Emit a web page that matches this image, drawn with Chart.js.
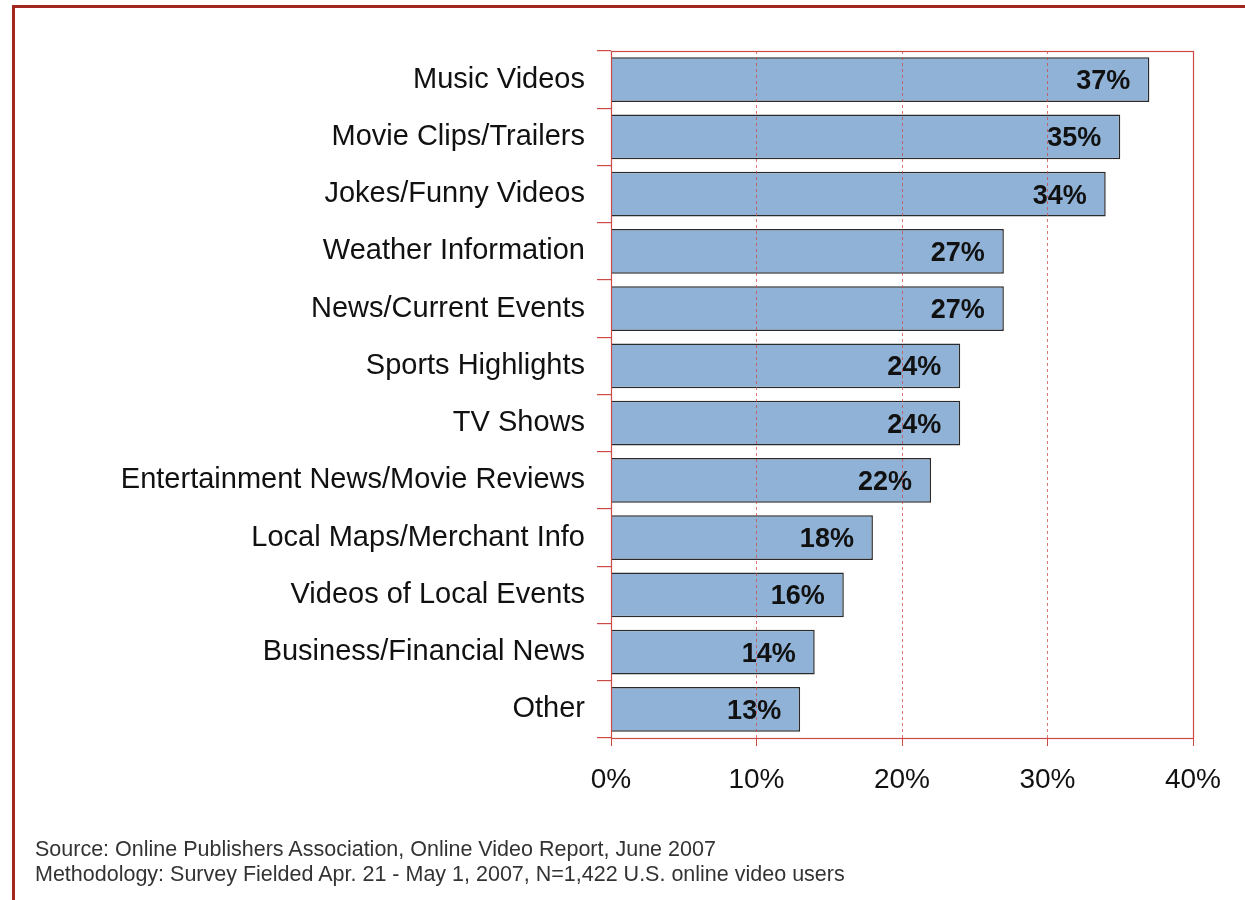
<!DOCTYPE html>
<html>
<head>
<meta charset="utf-8">
<script src="https://cdn.jsdelivr.net/npm/chart.js@4"></script>
<style>
  html, body { margin: 0; padding: 0; background: #fff; overflow: hidden; }
  #wrap { position: relative; width: 1245px; height: 900px; }
  #frame {
    position: absolute; left: 12px; top: 5px; width: 1300px; height: 1000px;
    border-left: 3px solid #a3261f; border-top: 3px solid #a3261f;
  }
  #chart { position: absolute; left: 0; top: 0; }
  .note {
    position: absolute; left: 35px; font-family: "Liberation Sans", Arial, sans-serif;
    font-size: 21.5px; color: #333; white-space: nowrap;
  }
</style>
</head>
<body>
<div id="wrap">
  <div id="frame"></div>
  <canvas id="chart" width="1245" height="900"></canvas>
  <div class="note" style="top:837px">Source: Online Publishers Association, Online Video Report, June 2007</div>
  <div class="note" style="top:862px">Methodology: Survey Fielded Apr. 21 - May 1, 2007, N=1,422 U.S. online video users</div>
</div>
<script>
const categories = [
    'Music Videos', 'Movie Clips/Trailers', 'Jokes/Funny Videos', 'Weather Information',
    'News/Current Events', 'Sports Highlights', 'TV Shows', 'Entertainment News/Movie Reviews',
    'Local Maps/Merchant Info', 'Videos of Local Events', 'Business/Financial News', 'Other'
];
const shares = [37, 35, 34, 27, 27, 24, 24, 22, 18, 16, 14, 13];
const xTicks = [0, 10, 20, 30, 40];

const red = '#cc4a45';

// percent label just inside the end of each bar
const barLabels = {
    id: 'barLabels',
    afterDatasetsDraw(chart) {
        const ctx = chart.ctx;
        const meta = chart.getDatasetMeta(0);
        ctx.save();
        ctx.font = 'bold 27px "Liberation Sans", Arial, sans-serif';
        ctx.fillStyle = '#111';
        ctx.textAlign = 'right';
        ctx.textBaseline = 'middle';
        meta.data.forEach((bar, i) => {
            ctx.fillText(shares[i] + '%', bar.x - 19, bar.y + 2);
        });
        ctx.restore();
    }
};

// solid box round the plot
const plotFrame = {
    id: 'plotFrame',
    afterDraw(chart) {
        const a = chart.chartArea;
        const ctx = chart.ctx;
        ctx.save();
        ctx.strokeStyle = red;
        ctx.lineWidth = 1.2;
        ctx.strokeRect(a.left + 0.5, a.top + 0.5, a.right - a.left, a.bottom - a.top);
        ctx.restore();
    }
};

new Chart(document.getElementById('chart').getContext('2d'), {
    type: 'bar',
    data: {
        labels: categories,
        datasets: [{
            data: shares,
            backgroundColor: '#8fb2d6',
            borderColor: '#2a2a2a',
            borderWidth: 1.5,
            barPercentage: 0.78,
            categoryPercentage: 1
        }]
    },
    options: {
        indexAxis: 'y',
        responsive: false,
        animation: false,
        layout: { padding: { top: 51, right: 52, bottom: 0, left: 0 } },
        plugins: {
            legend: { display: false },
            tooltip: { enabled: false }
        },
        scales: {
            x: {
                min: 0,
                max: 40,
                afterBuildTicks: s => { s.ticks = xTicks.map(v => ({ value: v })); },
                afterFit: s => { s.height = 162; },
                ticks: {
                    callback: v => v + '%',
                    color: '#111',
                    font: { family: '"Liberation Sans", Arial, sans-serif', size: 28 },
                    padding: 17
                },
                grid: { color: 'rgba(204,74,69,0.75)', tickColor: red, lineWidth: 1, tickLength: 8, z: 1 },
                border: { display: false, dash: [3, 3] }
            },
            y: {
                afterFit: s => { s.width = 611; },
                ticks: {
                    color: '#111',
                    font: { family: '"Liberation Sans", Arial, sans-serif', size: 29 },
                    padding: 12
                },
                grid: { color: red, tickColor: red, lineWidth: 1.2, drawOnChartArea: false, tickLength: 14, offset: true },
                border: { display: false }
            }
        }
    },
    plugins: [barLabels, plotFrame]
});
</script>
</body>
</html>
